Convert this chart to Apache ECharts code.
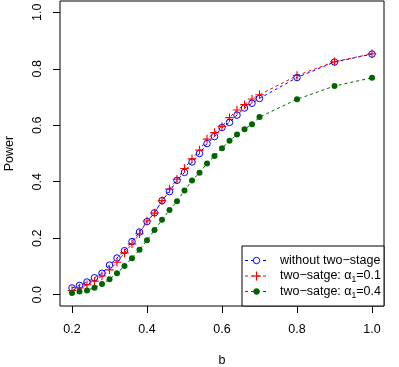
<!DOCTYPE html>
<html>
<head>
<meta charset="utf-8">
<script src="https://cdn.jsdelivr.net/npm/echarts@6/dist/echarts.min.js"></script>
<style>
  html, body { margin: 0; padding: 0; background: #fff; }
  #chart { width: 399px; height: 367px; }
</style>
</head>
<body>
<div id="chart"></div>
<script>
// valeurs
var bValues = [0.20, 0.22, 0.24, 0.26, 0.28, 0.30, 0.32, 0.34, 0.36, 0.38,
               0.40, 0.42, 0.44, 0.46, 0.48, 0.50, 0.52, 0.54, 0.56, 0.58,
               0.60, 0.62, 0.64, 0.66, 0.68, 0.70, 0.80, 0.90, 1.00];
var powerNoTwoStage = [0.024, 0.033, 0.045, 0.060, 0.076, 0.105, 0.130, 0.156, 0.188, 0.222,
                       0.259, 0.290, 0.333, 0.365, 0.405, 0.433, 0.470, 0.500, 0.535, 0.560,
                       0.592, 0.610, 0.636, 0.661, 0.678, 0.695, 0.769, 0.824, 0.852];
var powerAlpha01 = [0.015, 0.024, 0.035, 0.048, 0.066, 0.088, 0.115, 0.148, 0.180, 0.216,
                    0.261, 0.289, 0.333, 0.374, 0.409, 0.447, 0.481, 0.512, 0.551, 0.574,
                    0.596, 0.627, 0.654, 0.673, 0.693, 0.708, 0.776, 0.825, 0.853];
var powerAlpha04 = [0.006, 0.011, 0.015, 0.025, 0.038, 0.055, 0.076, 0.102, 0.129, 0.159,
                    0.193, 0.229, 0.265, 0.300, 0.331, 0.369, 0.404, 0.432, 0.465, 0.491,
                    0.519, 0.545, 0.567, 0.586, 0.604, 0.629, 0.692, 0.739, 0.768];
var xTicks = [0.2, 0.4, 0.6, 0.8, 1.0];
var yTicks = [0.0, 0.2, 0.4, 0.6, 0.8, 1.0];
var legendNames = ['without two\u2212stage', 'two\u2212satge: ', 'two\u2212satge: '];

var FONT = 'Liberation Sans';
var plusPath = 'path://M-0.13,-1H0.13V1H-0.13Z M-1,-0.13H1V0.13H-1Z';

function pairs(ys) {
  return bValues.map(function (b, i) { return [b, ys[i]]; });
}

var chart = echarts.init(document.getElementById('chart'));

var legX = 242, legY = 246, legW = 142, legH = 60;
var rows = [260.5, 276, 291.5];
var colors = ['#0000ff', '#ff0000', '#006400'];

var legendGraphics = [{
  type: 'rect', shape: { x: legX, y: legY, width: legW, height: legH },
  style: { fill: '#fff', stroke: '#000', lineWidth: 1 }, z: 100
}];
rows.forEach(function (ry, i) {
  legendGraphics.push({
    type: 'line', shape: { x1: 245, y1: ry, x2: 268, y2: ry },
    style: { stroke: colors[i], lineWidth: 1, lineDash: [3, 3] }, z: 101
  });
});
legendGraphics.push({
  type: 'circle', shape: { cx: 256.5, cy: rows[0], r: 3.2 },
  style: { fill: '#fff', stroke: colors[0], lineWidth: 1 }, z: 102
});
legendGraphics.push({
  type: 'polyline', shape: { points: [[256.5, rows[1] - 4.5], [256.5, rows[1] + 4.5]] },
  style: { stroke: colors[1], lineWidth: 1.1 }, z: 102
});
legendGraphics.push({
  type: 'polyline', shape: { points: [[252, rows[1]], [261, rows[1]]] },
  style: { stroke: colors[1], lineWidth: 1.1 }, z: 102
});
legendGraphics.push({
  type: 'circle', shape: { cx: 256.5, cy: rows[2], r: 3 },
  style: { fill: colors[2], stroke: colors[2], lineWidth: 0.5 }, z: 102
});
var legendTexts = [
  legendNames[0],
  legendNames[1] + '{a|\u03b1}{s|1}=0.1',
  legendNames[2] + '{a|\u03b1}{s|1}=0.4'
];
legendTexts.forEach(function (t, i) {
  legendGraphics.push({
    type: 'text', x: 280, y: rows[i], z: 103,
    style: {
      text: t, fill: '#000', font: '12.5px ' + FONT, verticalAlign: 'middle',
      rich: {
        a: { fontSize: 12.5, fontFamily: FONT },
        s: { fontSize: 8.5, fontFamily: FONT, padding: [8, 0, 0, 0] }
      }
    }
  });
});

var option = {
  backgroundColor: '#fff',
  animation: false,
  textStyle: { fontFamily: FONT },
  grid: {
    left: 60, right: 15, top: 1, bottom: 61,
    outerBoundsMode: 'none', containLabel: false,
    show: true, borderColor: '#000', borderWidth: 1, backgroundColor: 'transparent'
  },
  xAxis: {
    type: 'value', min: 0.168, max: 1.032,
    name: 'b', nameLocation: 'middle', nameGap: 48,
    nameTextStyle: { fontSize: 12.5, color: '#000', fontFamily: FONT },
    axisLine: { show: false, onZero: false },
    splitLine: { show: false },
    axisTick: { show: true, inside: false, length: 7, customValues: xTicks, lineStyle: { color: '#000' } },
    axisLabel: {
      customValues: xTicks, margin: 17, fontSize: 12.5, color: '#000', fontFamily: FONT,
      formatter: function (v) { return v.toFixed(1); }
    }
  },
  yAxis: {
    type: 'value', min: -0.04, max: 1.04,
    name: 'Power', nameLocation: 'middle', nameGap: 44, nameRotate: 90,
    nameTextStyle: { fontSize: 12.5, color: '#000', fontFamily: FONT },
    axisLine: { show: false, onZero: false },
    splitLine: { show: false },
    axisTick: { show: true, inside: false, length: 7, customValues: yTicks, lineStyle: { color: '#000' } },
    axisLabel: {
      customValues: yTicks, rotate: 90, margin: 16, fontSize: 12.5, color: '#000', fontFamily: FONT,
      formatter: function (v) { return v.toFixed(1); }
    }
  },
  series: [
    {
      name: 'noTwoStage', type: 'line', data: pairs(powerNoTwoStage),
      symbol: 'circle', symbolSize: 6.5,
      lineStyle: { color: colors[0], width: 1, type: [3, 3] },
      itemStyle: { color: 'rgba(255,255,255,0)', borderColor: colors[0], borderWidth: 1 }
    },
    {
      name: 'alpha01', type: 'line', data: pairs(powerAlpha01),
      symbol: plusPath, symbolSize: 8.5,
      lineStyle: { color: colors[1], width: 1, type: [3, 3] },
      itemStyle: { color: colors[1], borderWidth: 0 }
    },
    {
      name: 'alpha04', type: 'line', data: pairs(powerAlpha04),
      symbol: 'circle', symbolSize: 6,
      lineStyle: { color: colors[2], width: 1, type: [3, 3] },
      itemStyle: { color: colors[2], borderColor: colors[2], borderWidth: 0 }
    }
  ],
  graphic: legendGraphics
};

chart.setOption(option);
</script>
</body>
</html>
